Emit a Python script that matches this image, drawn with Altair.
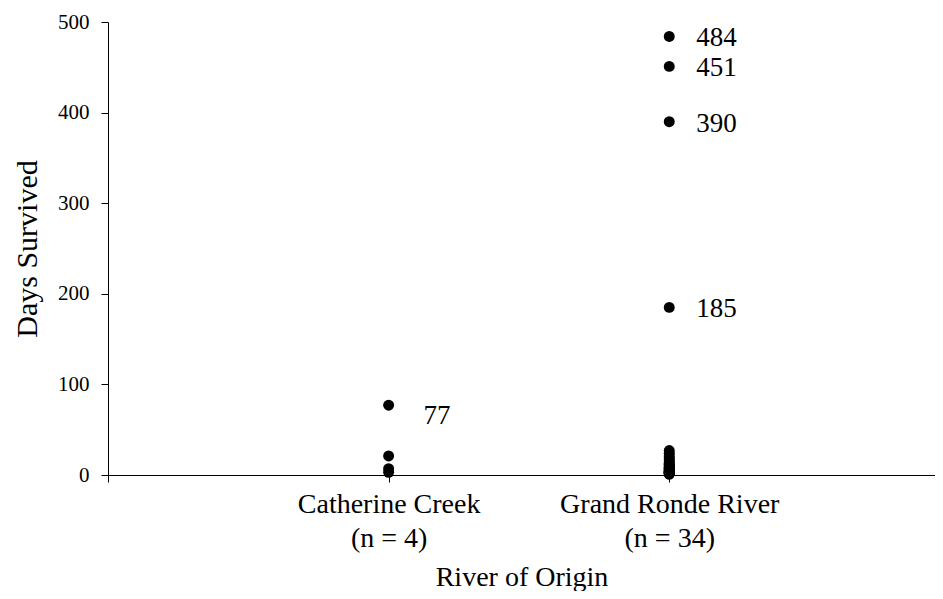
import altair as alt
import pandas as pd

# ---- data ----
categories = ["Catherine Creek", "Grand Ronde River"]
cat_counts = [4, 34]

catherine_days = [77, 21, 7, 3]
grande_ronde_days = [484, 451, 390, 185,
                     27, 24, 21, 19, 17, 15, 13, 12, 11, 10,
                     9, 8, 8, 7, 7, 6, 6, 5, 5, 4,
                     4, 4, 3, 3, 3, 2, 2, 2, 1, 1]

label_category = ["Grand Ronde River", "Grand Ronde River",
                  "Grand Ronde River", "Grand Ronde River"]
label_values = [484, 451, 390, 185]
label_category_cc = ["Catherine Creek"]
label_values_cc = [77]

FONT = "Times New Roman, Liberation Serif, serif"

pos_of = {c: i + 1 for i, c in enumerate(categories)}

pts = pd.DataFrame(
    [{"category": categories[0], "days": d} for d in catherine_days]
    + [{"category": categories[1], "days": d} for d in grande_ronde_days]
)
pts["pos"] = pts["category"].map(pos_of)

labs = pd.DataFrame({"category": label_category, "days": label_values})
labs["pos"] = labs["category"].map(pos_of)
labs["text"] = labs["days"].astype(str)

labs_cc = pd.DataFrame({"category": label_category_cc, "days": label_values_cc})
labs_cc["pos"] = labs_cc["category"].map(pos_of)
labs_cc["text"] = labs_cc["days"].astype(str)

label_expr = " : ".join(
    f"datum.value == {pos_of[c]} ? ['{c}', '(n = {n})']"
    for c, n in zip(categories, cat_counts)
) + " : ''"

x_enc = alt.X(
    "pos:Q",
    scale=alt.Scale(domain=[0, 2.947], nice=False, zero=False),
    axis=alt.Axis(
        values=[0, 1, 2],
        labelExpr=label_expr,
        title="River of Origin",
        labelPadding=8,
        labelFontSize=28,
        labelLineHeight=34,
        titleFontSize=28,
        titlePadding=11,
        labelFlush=False,
        labelOverlap=False,
        labelLimit=0,
        labelFont=FONT,
        titleFont=FONT,
    ),
)

y_enc = alt.Y(
    "days:Q",
    scale=alt.Scale(domain=[0, 500], nice=False),
    axis=alt.Axis(
        values=[0, 100, 200, 300, 400, 500],
        title="Days Survived",
        labelPadding=12,
        labelFontSize=21,
        titleFontSize=30,
        titlePadding=15,
        labelFont=FONT,
        titleFont=FONT,
    ),
)

points = alt.Chart(pts).mark_point(
    filled=True, shape="circle", size=120, color="black", opacity=1
).encode(x=x_enc, y=y_enc)

texts = alt.Chart(labs).mark_text(
    align="left", baseline="middle", font=FONT, fontSize=27, color="black",
    dx=27, dy=2,
).encode(x="pos:Q", y="days:Q", text="text:N")

texts_cc = alt.Chart(labs_cc).mark_text(
    align="left", baseline="middle", font=FONT, fontSize=27, color="black",
    dx=35, dy=11,
).encode(x="pos:Q", y="days:Q", text="text:N")

chart = (
    alt.layer(points, texts, texts_cc)
    .properties(
        width=927,
        height=583,
        autosize=alt.AutoSizeParams(type="fit", contains="padding"),
        padding={"left": 4, "top": 3, "right": 0, "bottom": 0},
        background="white",
    )
    .configure_view(stroke=None)
    .configure_axis(
        grid=False,
        tickSize=7,
        labelFont=FONT,
        labelColor="black",
        titleFont=FONT,
        titleFontWeight="normal",
        titleColor="black",
        domainColor="black",
        tickColor="black",
        labelLimit=0,
    )
    .configure_text(font=FONT)
)

chart.save("out.html", embed_options={"renderer": "svg", "actions": False})
